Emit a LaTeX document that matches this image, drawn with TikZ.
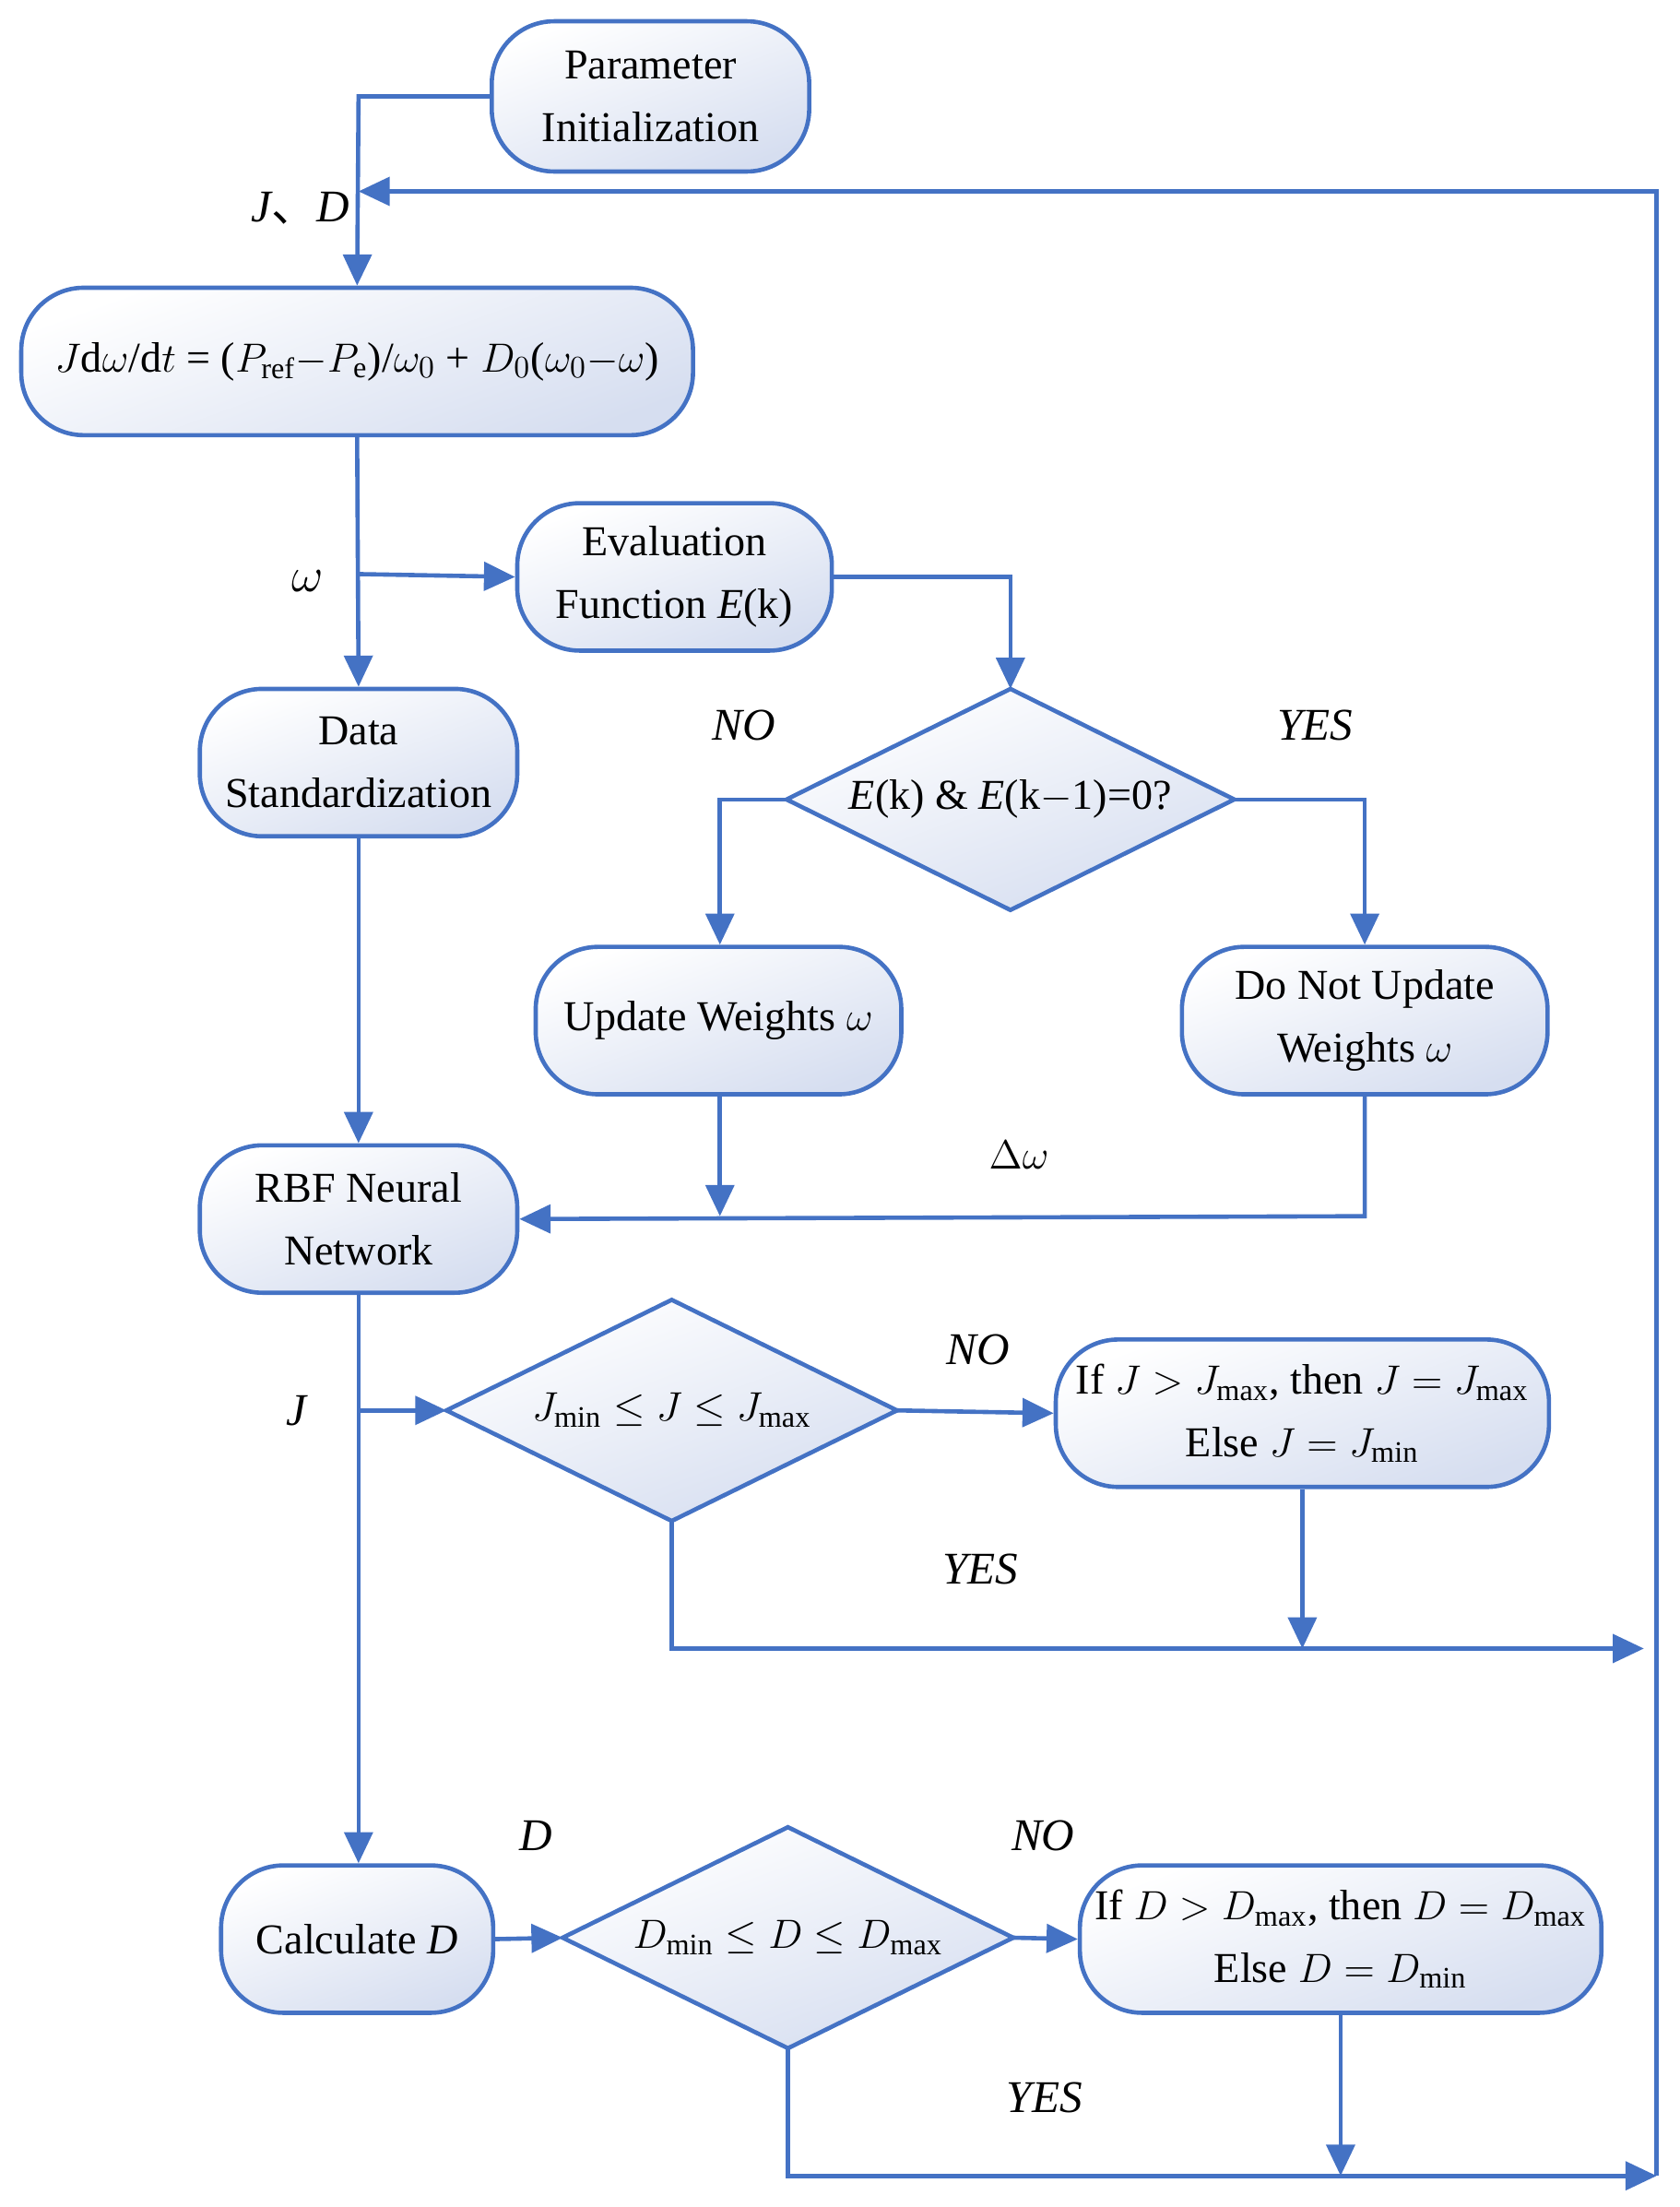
\documentclass[tikz,border=0pt]{standalone}
\usepackage{fontspec}
\setmainfont{Liberation Serif}
\newfontfamily\cjk{Noto Sans CJK SC}
\usetikzlibrary{shapes.geometric,arrows.meta}
\definecolor{bl}{RGB}{68,114,196}
\definecolor{fillb}{RGB}{214,222,240}
\begin{document}
\begin{tikzpicture}[x=0.5pt,y=-0.5pt,
  every node/.style={font=\fontsize{15}{22}\selectfont},
  box/.style={draw=bl,line width=1.5pt,rounded corners=22pt,align=center,
    shading=axis,top color=white,bottom color=fillb,shading angle=20,inner sep=1pt},
  dsh/.style={draw=bl,line width=1.5pt,shading=axis,top color=white,bottom color=fillb,shading angle=20},
  ln/.style={draw=bl,line width=1.5pt},
  ar/.style={ln,-{Triangle[length=11pt,width=10pt]}},
  lab/.style={font=\fontsize{16}{20}\selectfont\itshape}]
\useasboundingbox (0,0) rectangle (1185,1557);
\newcommand\mydia[5]{% name, cx, cy, halfw, halfh
  \coordinate (#1n) at (#2,#3-#5); \coordinate (#1s) at (#2,#3+#5);
  \coordinate (#1w) at (#2-#4,#3); \coordinate (#1e) at (#2+#4,#3);
  \path[dsh] (#1n) -- (#1e) -- (#1s) -- (#1w) -- cycle;}
\node[box,minimum width=112pt,minimum height=53pt] (param) at (459,68) {Parameter\\Initialization};
\node[box,minimum width=237pt,minimum height=52pt] (eq) at (252,255) {$J$d$\omega$/d$t$ = ($P_{\mathrm{ref}}$$-$$P_{\mathrm{e}}$)/$\omega_0$ + $D_0$($\omega_0$$-$$\omega$)};
\node[box,minimum width=111pt,minimum height=52pt] (eval) at (476,407) {Evaluation\\Function \textit{E}(k)};
\node[box,minimum width=112pt,minimum height=52pt] (data) at (253,538) {Data\\Standardization};
\mydia{d1}{713}{564}{158}{78}
\node (d1) at (713,564) {\textit{E}(k) \& \textit{E}(k$-$1)=0?};
\node[box,minimum width=129pt,minimum height=52pt] (upd) at (507,720) {Update Weights $\omega$};
\node[box,minimum width=129pt,minimum height=52pt] (dont) at (963,720) {Do Not Update\\Weights $\omega$};
\node[box,minimum width=112pt,minimum height=52pt] (rbf) at (253,860) {RBF Neural\\Network};
\mydia{d2}{474}{995}{159}{78}
\node (d2) at (474,995) {$J_{\min}\le J\le J_{\max}$};
\node[box,minimum width=174pt,minimum height=52pt] (ifj) at (919,997) {If $J>J_{\max}$, then $J=J_{\max}$\\Else $J=J_{\min}$};
\node[box,minimum width=96pt,minimum height=52pt] (calc) at (252,1368) {Calculate \textit{D}};
\mydia{d3}{556}{1367}{159}{78}
\node (d3) at (556,1367) {$D_{\min}\le D\le D_{\max}$};
\node[box,minimum width=184pt,minimum height=52pt] (ifd) at (946,1368) {If $D>D_{\max}$, then $D=D_{\max}$\\Else $D=D_{\min}$};
\coordinate (fbt) at (1169,135);
\coordinate (fbb) at (1169,1535);
\coordinate (fbl) at (253,135);
\coordinate (jb) at (253,995);
\coordinate (wb) at (253,405);
\coordinate (jend) at (1160,1163);
\coordinate (upm) at (508,858);
\draw[ar] (param.west) -- (253,68) -- (eq.north);
\draw[ar] (fbb) -- (fbt) -- (fbl);
\draw[ar] (eq.south) -- (data.north);
\draw[ar] (wb) -- (eval.west);
\draw[ar] (eval.east) -- (713,407) -- (d1n);
\draw[ar] (d1w) -- (508,564) -- (upd.north -| 508,0);
\draw[ar] (d1e) -- (963,564) -- (dont.north);
\draw[ar] (data.south) -- (rbf.north);
\draw[ar] (upd.south -| 508,0) -- (upm);
\draw[ar] (dont.south) -- (963,858) -- (rbf.east);
\draw[ar] (rbf.south) -- (calc.north -| 253,0);
\draw[ar] (jb) -- (d2w);
\draw[ar] (d2e) -- (ifj.west);
\draw[ar] (d2s) -- (474,1163) -- (jend);
\draw[ar] (ifj.south) -- (919,1163);
\draw[ar] (calc.east) -- (d3w);
\draw[ar] (d3e) -- (ifd.west);
\draw[ar] (d3s) -- (556,1535) -- (fbb);
\draw[ar] (ifd.south) -- (946,1535);
\node[lab] at (212,147) {J{\upshape\cjk 、}D};
\node[lab] at (217,410) {$\omega$};
\node[lab] at (525,512) {NO};
\node[lab] at (928,512) {YES};
\node at (719,815) {$\Delta\omega$};
\node[lab] at (209,995) {J};
\node[lab] at (690,952) {NO};
\node[lab] at (692,1107) {YES};
\node[lab] at (378,1295) {D};
\node[lab] at (736,1295) {NO};
\node[lab] at (737,1480) {YES};
\end{tikzpicture}
\end{document}
